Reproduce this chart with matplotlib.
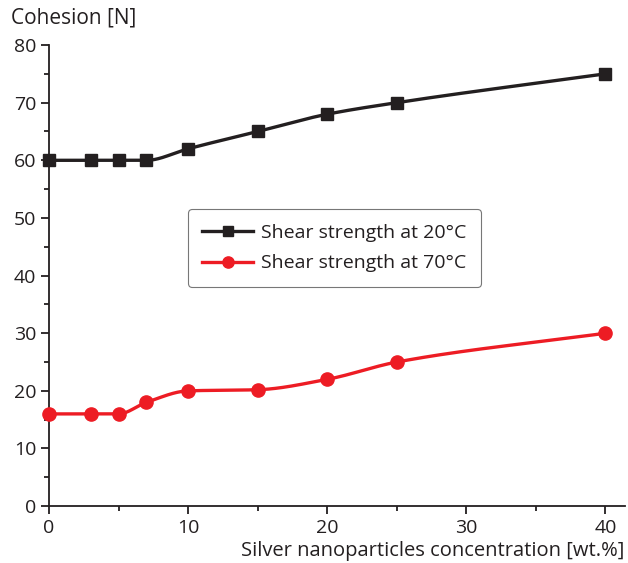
import numpy as np
import matplotlib.pyplot as plt
from matplotlib.ticker import MultipleLocator

plt.rcParams['font.family'] = ['Open Sans', 'DejaVu Sans']

# Ag nanoparticle content [wt.%] and measured cohesion [N]
concentration = [0, 3, 5, 7, 10, 15, 20, 25, 40]
shear_20c = [60, 60, 60, 60, 62, 65, 68, 70, 75]
shear_70c = [16, 16, 16, 18, 20, 20.2, 22, 25, 30]
labels = ["Shear strength at 20°C", "Shear strength at 70°C"]


def smooth(x, y, n=40):
    # monotone cubic (Fritsch-Carlson) curve through the points
    x = np.asarray(x, float)
    y = np.asarray(y, float)
    h = np.diff(x)
    d = np.diff(y) / h
    m = np.zeros_like(y)
    m[0], m[-1] = d[0], d[-1]
    for i in range(1, len(x) - 1):
        if d[i - 1] * d[i] > 0:
            w1 = 2 * h[i] + h[i - 1]
            w2 = h[i] + 2 * h[i - 1]
            m[i] = (w1 + w2) / (w1 / d[i - 1] + w2 / d[i])
    xs, ys = [], []
    for i in range(len(x) - 1):
        t = np.linspace(0, 1, n)
        h00 = 2 * t**3 - 3 * t**2 + 1
        h10 = t**3 - 2 * t**2 + t
        h01 = -2 * t**3 + 3 * t**2
        h11 = t**3 - t**2
        xs.append(x[i] + t * h[i])
        ys.append(h00 * y[i] + h10 * h[i] * m[i] + h01 * y[i + 1] + h11 * h[i] * m[i + 1])
    return np.concatenate(xs), np.concatenate(ys)


fig = plt.figure(figsize=(6.28, 5.63), dpi=100)
ax = fig.add_axes([0.078, 0.101, 0.917, 0.819])

black = '#231f20'
red = '#ed1c24'

for y, col, mk, ms, lab in [(shear_20c, black, 's', 8, labels[0]),
                            (shear_70c, red, 'o', 9.5, labels[1])]:
    sx, sy = smooth(concentration, y)
    ax.plot(sx, sy, color=col, lw=2.4, zorder=2)
    ax.plot(concentration, y, ls='none', marker=mk, ms=ms, color=col,
            clip_on=False, zorder=3)
    # legend proxy
    ax.plot([], [], color=col, lw=2.4, marker=mk, ms=ms * 0.85, label=lab)

ax.set_xlim(0, 41.4)
ax.set_ylim(0, 80)
ax.xaxis.set_major_locator(MultipleLocator(10))
ax.xaxis.set_minor_locator(MultipleLocator(5))
ax.yaxis.set_major_locator(MultipleLocator(10))
ax.yaxis.set_minor_locator(MultipleLocator(5))

for s in ['top', 'right']:
    ax.spines[s].set_visible(False)
for s in ['left', 'bottom']:
    ax.spines[s].set_linewidth(1.3)
    ax.spines[s].set_color(black)

ax.tick_params(which='major', direction='out', length=6, width=1.3,
               labelsize=14, colors=black, pad=3)
ax.tick_params(which='minor', direction='out', length=3.5, width=1.3, colors=black)

ax.text(-0.078 + 0.012, 1.035, "Cohesion [N]", transform=ax.transAxes,
        fontsize=15, color=black, ha='left', va='bottom')
ax.text(1.0, -0.075, "Silver nanoparticles concentration [wt.%]",
        transform=ax.transAxes, fontsize=14.5, color=black, ha='right', va='top')

leg = ax.legend(loc='upper left', bbox_to_anchor=(0.241, 0.644), fontsize=14,
                frameon=True, fancybox=True, borderpad=0.75, handlelength=2.6,
                labelspacing=0.65, handletextpad=0.4, borderaxespad=0)
leg.get_frame().set_edgecolor('#555555')
leg.get_frame().set_linewidth(0.8)
for t in leg.get_texts():
    t.set_color(black)

fig.savefig('out.png', dpi=100)
